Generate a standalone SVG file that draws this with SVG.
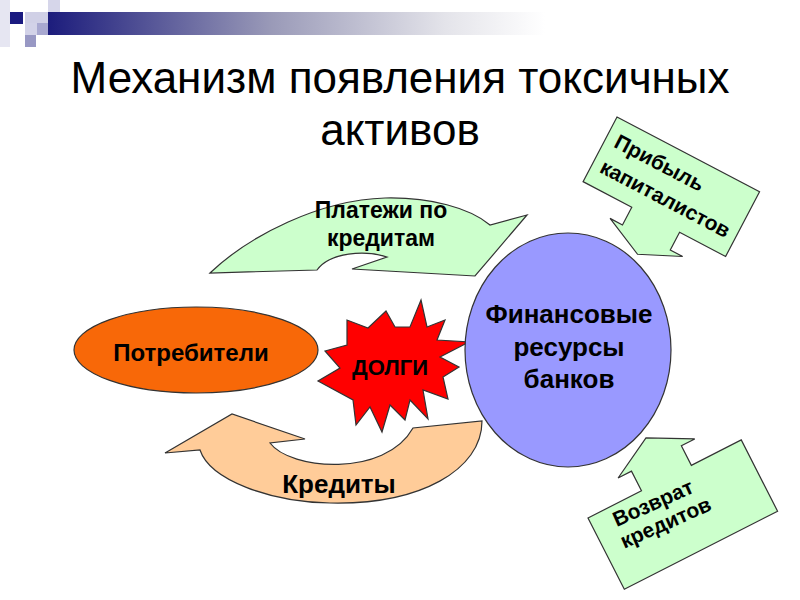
<svg xmlns="http://www.w3.org/2000/svg" width="800" height="600" viewBox="0 0 800 600">
<defs>
<linearGradient id="bar" x1="48" y1="0" x2="545" y2="0" gradientUnits="userSpaceOnUse">
<stop offset="0" stop-color="#1C1C7C"/>
<stop offset="0.45" stop-color="#9A9AB8"/>
<stop offset="0.8" stop-color="#E4E4EA"/>
<stop offset="1" stop-color="#FFFFFF"/>
</linearGradient>
</defs>
<style>
.sh{stroke:#333;stroke-width:1.2;stroke-linejoin:miter}
.lbl{font-family:"Liberation Sans",Arial,sans-serif;font-weight:bold;fill:#000}
.title{font-family:"Liberation Sans",Arial,sans-serif;font-size:44px;fill:#000;text-anchor:middle}
.green{fill:#CCFFCC}
</style>
<rect width="800" height="600" fill="#fff"/>
<g id="header">
<rect x="0" y="0" width="10" height="47" fill="#E6E6F2"/>
<rect x="48" y="12" width="497" height="23" fill="url(#bar)"/>
<rect x="48" y="0" width="12" height="12" fill="#D6D6EA"/>
<rect x="25" y="12" width="23" height="11" fill="#D0D0E6"/>
<rect x="10" y="12" width="13" height="12" fill="#1A1A80"/>
<rect x="25" y="23" width="12" height="12" fill="#D2D2E8"/>
<rect x="37" y="23" width="11" height="12" fill="#A8A8D0"/>
<rect x="25" y="35" width="11" height="12" fill="#9898C4"/>
</g>
<g id="title">
<text class="title" x="400" y="93">Механизм появления токсичных</text>
<text class="title" x="400" y="145">активов</text>
</g>
<g id="connectors">
<g id="payments">
<path class="sh green" d="M210,273 C250,235 320,200 385,198 C430,197 470,208 490,225 L527,215 L475,276 L352,269 L387,257 C365,250 330,252 317,270 Z"/>
<text class="lbl" font-size="23" text-anchor="middle" x="381" y="218">Платежи по</text>
<text class="lbl" font-size="23" text-anchor="middle" x="381" y="246">кредитам</text>
</g>
<g id="credits">
<path class="sh" fill="#FFCC99" d="M165,453 L232,414 L305,439 L270,443 C290,470 385,478 413,428 L482,421 C482,470 420,505 330,503 C270,502 210,480 200,450 Z"/>
<text class="lbl" font-size="26" text-anchor="middle" x="339" y="493">Кредиты</text>
</g>
</g>
<g id="consumers">
<ellipse class="sh" fill="#F86808" cx="196" cy="350" rx="122" ry="43"/>
<text class="lbl" font-size="24" text-anchor="middle" x="191" y="361">Потребители</text>
</g>
<g id="debts">
<polygon class="sh" fill="#FF0000" points="421,300 427,327 445,320 437,340 469,342 440,357 459,367 443,377 448,399 423,390 428,419 410,400 405,420 390,405 382,432 370,407 356,425 353,400 318,381 340,368 325,351 347,345 347,320 368,328 386,311 395,327 410,327"/>
<text class="lbl" font-size="22" text-anchor="middle" x="390" y="375">ДОЛГИ</text>
</g>
<g id="banks">
<ellipse class="sh" fill="#9999FF" cx="568" cy="350" rx="103" ry="117"/>
<text class="lbl" font-size="26" text-anchor="middle" x="569" y="323">Финансовые</text>
<text class="lbl" font-size="26" text-anchor="middle" x="569" y="356">ресурсы</text>
<text class="lbl" font-size="26" text-anchor="middle" x="569" y="388">банков</text>
</g>
<g id="profit" transform="translate(617,117) rotate(27.7)">
<path class="sh green" d="M0,0 H161 V73 H109 V93 H123 L82,112 L41,93 H55 V73 H0 Z"/>
<text class="lbl" font-size="21" x="10" y="28">Прибыль</text>
<text class="lbl" font-size="21" x="9" y="57">капиталистов</text>
</g>
<g id="return" transform="translate(588,518) rotate(-27)">
<path class="sh green" d="M0,0 H60 V-22 H45 L88,-45 L131,-22 H116 V0 H172 V80 H0 Z"/>
<g transform="rotate(3 20 30)">
<text class="lbl" font-size="21" x="21" y="21">Возврат</text>
<text class="lbl" font-size="21" x="19" y="44">кредитов</text>
</g>
</g>
</svg>
